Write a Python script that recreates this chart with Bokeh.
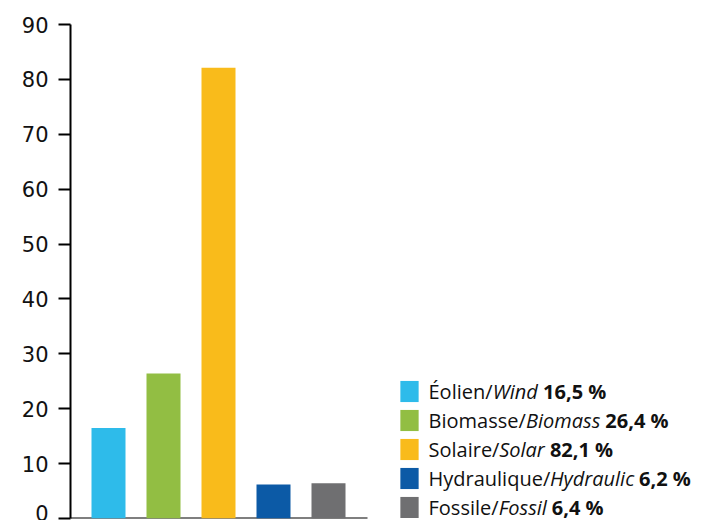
import os
from bokeh.plotting import figure
from bokeh.models import Range1d, FixedTicker, Label, ColumnDataSource
from bokeh.embed import file_html
from bokeh.resources import INLINE

# ---- data ----
names_fr = ["Éolien", "Biomasse", "Solaire", "Hydraulique", "Fossile"]
names_en = ["Wind", "Biomass", "Solar", "Hydraulic", "Fossil"]
values = [16.5, 26.4, 82.1, 6.2, 6.4]
colors = ["#2EBBEA", "#92BE43", "#F9BB1B", "#0C5AA6", "#6F6F71"]
y_ticks = [0, 10, 20, 30, 40, 50, 60, 70, 80, 90]

# ---- font measurement (for mixed-style legend text) ----
LEG_SIZE = 20
_font_files = {}
for root in ("/usr/share/fonts", "/usr/local/share/fonts", os.path.expanduser("~/.fonts")):
    for dp, dn, fn in os.walk(root):
        for f in fn:
            _font_files.setdefault(f, os.path.join(dp, f))


def make_measure(style):
    try:
        from PIL import ImageFont
        static = {"normal": "OpenSans-Regular.ttf", "italic": "OpenSans-Italic.ttf",
                  "bold": "OpenSans-Bold.ttf"}[style]
        if static in _font_files:
            f = ImageFont.truetype(_font_files[static], LEG_SIZE)
            return lambda s: f.getlength(s)
        for name, path in _font_files.items():
            if not name.startswith("OpenSans") or "[" not in name:
                continue
            is_it = "Italic" in name
            if is_it != (style == "italic"):
                continue
            f = ImageFont.truetype(path, LEG_SIZE)
            if style == "bold":
                try:
                    f.set_variation_by_axes([100, 700])
                except Exception:
                    pass
            return lambda s: f.getlength(s)
    except Exception:
        pass
    avg = {"normal": 0.56, "italic": 0.52, "bold": 0.61}[style]
    return lambda s: len(s) * avg * LEG_SIZE


m_norm, m_it, m_bold = make_measure("normal"), make_measure("italic"), make_measure("bold")

# ---- layout constants (pixels) ----
W, H = 702, 520
FRAME_L, FRAME_T, FRAME_B = 70, 24, 518
PX_PER_UNIT = 55.0
X_START = -38 / PX_PER_UNIT                 # frame left relative to first bar centre
X_END = X_START + (W - FRAME_L) / PX_PER_UNIT
BASE_END = X_START + (367 - FRAME_L) / PX_PER_UNIT   # where the x baseline stops

x_idx = list(range(len(values)))
source = ColumnDataSource(dict(x=x_idx, top=values, color=colors))

p = figure(width=W, height=H, output_backend="svg", toolbar_location=None,
           x_range=Range1d(X_START, X_END), y_range=Range1d(0, 90),
           min_border_left=FRAME_L, min_border_right=0,
           min_border_top=FRAME_T, min_border_bottom=H - FRAME_B)
p.outline_line_color = None
p.grid.grid_line_color = None
p.background_fill_color = "white"
p.border_fill_color = "white"
p.xaxis.visible = False

# x baseline
p.segment(x0=[X_START], x1=[BASE_END], y0=[0], y1=[0], line_color="black", line_width=2)

p.vbar(x="x", top="top", bottom=0, width=34 / PX_PER_UNIT, color="color",
       line_color=None, source=source)

# y axis
ya = p.yaxis[0]
ya.ticker = FixedTicker(ticks=y_ticks)
ya.major_label_text_font = "DejaVu Sans"
ya.major_label_text_font_size = "21px"
ya.major_label_text_color = "#111111"
ya.major_label_standoff = 10
ya.major_tick_out = 12
ya.major_tick_in = 0
ya.minor_tick_line_color = None
ya.axis_line_width = 2
ya.major_tick_line_width = 2
ya.axis_line_color = "black"
ya.major_tick_line_color = "black"

# ---- legend (mixed-style text) ----
SQ_CX = 409          # square centre, canvas px
TXT_X = 428          # text start, canvas px
ROW0 = 391           # first row centre, canvas px
PITCH = 29
txt_color = "#111111"
for i in range(len(values)):
    cy = ROW0 + i * PITCH
    base = cy
    sq = Label(x=SQ_CX - FRAME_L, y=FRAME_B - cy, x_units="screen", y_units="screen",
               text=" ", text_font_size="1px", text_align="center", text_baseline="middle",
               background_fill_color=colors[i], padding=(9, 10))
    p.add_layout(sq)
    t1 = names_fr[i] + "/"
    t2 = names_en[i]
    t3 = f"{values[i]:.1f}".replace(".", ",") + " %"
    x1 = TXT_X
    x2 = x1 + m_norm(t1)
    x3 = x2 + m_it(t2) + m_it(" ")
    for txt, xx, style in ((t1, x1, "normal"), (t2, x2, "italic"), (t3, x3, "bold")):
        lab = Label(x=xx - FRAME_L, y=FRAME_B - base, x_units="screen", y_units="screen",
                    text=txt, text_font="Open Sans", text_font_size=f"{LEG_SIZE}px",
                    text_font_style=style, text_color=txt_color,
                    text_align="left", text_baseline="alphabetic")
        p.add_layout(lab)

open("out.html", "w").write(file_html(p, INLINE))
